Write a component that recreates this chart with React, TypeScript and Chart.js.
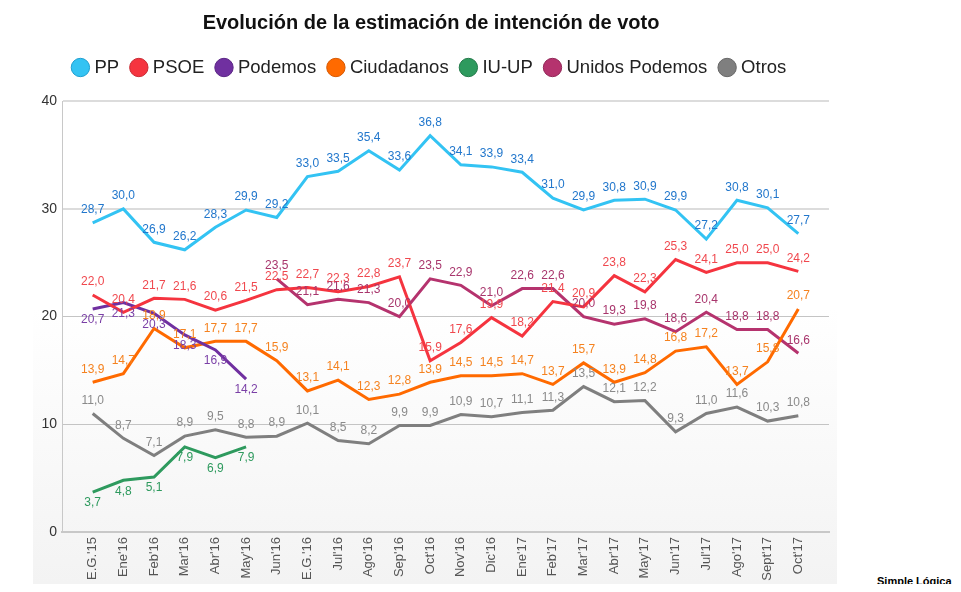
import { useEffect, useRef } from "react";
import { Chart, registerables } from "chart.js";
Chart.register(...registerables);

const categories = ["E.G.'15", "Ene'16", "Feb'16", "Mar'16", "Abr'16", "May'16", "Jun'16", "E.G.'16", "Jul'16", "Ago'16", "Sep'16", "Oct'16", "Nov'16", "Dic'16", "Ene'17", "Feb'17", "Mar'17", "Abr'17", "May'17", "Jun'17", "Jul'17", "Ago'17", "Sept'17", "Oct'17"];

const seriesNames = ["PP", "PSOE", "Podemos", "Ciudadanos", "IU-UP", "Unidos Podemos", "Otros"];

const ppValues = [28.7, 30.0, 26.9, 26.2, 28.3, 29.9, 29.2, 33.0, 33.5, 35.4, 33.6, 36.8, 34.1, 33.9, 33.4, 31.0, 29.9, 30.8, 30.9, 29.9, 27.2, 30.8, 30.1, 27.7];
const psoeValues = [22.0, 20.4, 21.7, 21.6, 20.6, 21.5, 22.5, 22.7, 22.3, 22.8, 23.7, 15.9, 17.6, 19.9, 18.2, 21.4, 20.9, 23.8, 22.3, 25.3, 24.1, 25.0, 25.0, 24.2];
const podemosValues = [20.7, 21.3, 20.3, 18.3, 16.9, 14.2, null, null, null, null, null, null, null, null, null, null, null, null, null, null, null, null, null, null];
const ciudadanosValues = [13.9, 14.7, 18.9, 17.1, 17.7, 17.7, 15.9, 13.1, 14.1, 12.3, 12.8, 13.9, 14.5, 14.5, 14.7, 13.7, 15.7, 13.9, 14.8, 16.8, 17.2, 13.7, 15.8, 20.7];
const iuupValues = [3.7, 4.8, 5.1, 7.9, 6.9, 7.9, null, null, null, null, null, null, null, null, null, null, null, null, null, null, null, null, null, null];
const unidosPodemosValues = [null, null, null, null, null, null, 23.5, 21.1, 21.6, 21.3, 20.0, 23.5, 22.9, 21.0, 22.6, 22.6, 20.0, 19.3, 19.8, 18.6, 20.4, 18.8, 18.8, 16.6];
const otrosValues = [11.0, 8.7, 7.1, 8.9, 9.5, 8.8, 8.9, 10.1, 8.5, 8.2, 9.9, 9.9, 10.9, 10.7, 11.1, 11.3, 13.5, 12.1, 12.2, 9.3, 11.0, 11.6, 10.3, 10.8];

const yTicks = [0, 10, 20, 30, 40];

const allValues = [ppValues, psoeValues, podemosValues, ciudadanosValues, iuupValues, unidosPodemosValues, otrosValues];
const lineColors = ["#33c3f3", "#f5343f", "#7030a0", "#ff6a00", "#2e9a5e", "#b5336e", "#7f7f7f"];
const legendStroke = ["#1f9fd0", "#c92a33", "#5a2585", "#d65800", "#237a4a", "#922858", "#666666"];
const labelColors = ["#2277cc", "#f0484e", "#7a3fa6", "#f5821f", "#2e9a5e", "#a8356c", "#8a8a8a"];
const labelPlacement = ["above", "above", "below", "above", "below", "above", "above"];

const fmt = (v: number) => v.toFixed(1).replace(".", ",");

const bgPlugin = {
  id: "bgShade",
  beforeDraw(chart: any) {
    const ctx = chart.ctx;
    ctx.save();
    const g = ctx.createLinearGradient(0, 300, 0, 576);
    g.addColorStop(0, "rgba(255,255,255,1)");
    g.addColorStop(1, "#f3f3f3");
    ctx.fillStyle = g;
    ctx.fillRect(25, 300, 804, 276);
    ctx.restore();
  },
};

const valueLabelPlugin = {
  id: "valueLabels",
  afterDatasetsDraw(chart: any) {
    const ctx = chart.ctx;
    ctx.save();
    ctx.font = "12px Arial, 'Liberation Sans', sans-serif";
    ctx.textAlign = "center";
    ctx.textBaseline = "middle";
    chart.data.datasets.forEach((ds: any, di: number) => {
      const meta = chart.getDatasetMeta(di);
      ctx.fillStyle = labelColors[di];
      meta.data.forEach((pt: any, i: number) => {
        const raw = ds.data[i];
        if (!raw || raw.y == null) return;
        const dy = labelPlacement[di] === "below" ? 11 : -13;
        ctx.fillText(fmt(raw.y), pt.x, pt.y + dy);
      });
    });
    ctx.restore();
  },
};

export default function App() {
  const ref = useRef<HTMLCanvasElement | null>(null);
  useEffect(() => {
    if (!ref.current) return;
    Chart.defaults.font.family = "Arial, 'Liberation Sans', sans-serif";
    const datasets = seriesNames.map((name, si) => ({
      label: name,
      data: allValues[si]
        .map((v, i) => ({ x: i, y: v }))
        .filter((p) => p.y !== null),
      borderColor: lineColors[si],
      backgroundColor: lineColors[si],
      borderWidth: 3,
      pointRadius: 0,
      pointHoverRadius: 0,
      tension: 0,
      fill: false,
    }));
    const chart = new Chart(ref.current, {
      type: "line",
      data: { datasets },
      plugins: [bgPlugin, valueLabelPlugin],
      options: {
        animation: false,
        responsive: false,
        maintainAspectRatio: false,
        layout: { padding: 0 },
        plugins: {
          title: {
            display: true,
            text: "Evolución de la estimación de intención de voto",
            font: { size: 20, weight: "bold" },
            color: "#111",
            padding: { top: 3, bottom: 8.25 },
          },
          subtitle: {
            display: true,
            text: " ",
            font: { size: 1 },
            padding: { top: 0, bottom: 13.25 },
          },
          legend: {
            display: true,
            weight: 1800,
            labels: {
              usePointStyle: true,
              pointStyle: "circle",
              boxWidth: 9.5,
              boxHeight: 13,
              padding: 15,
              color: "#222",
              font: { size: 18.5 },
              generateLabels: (chart: any) =>
                chart.data.datasets.map((ds: any, i: number) => ({
                  text: ds.label,
                  fillStyle: lineColors[i],
                  strokeStyle: legendStroke[i],
                  lineWidth: 1,
                  pointStyle: "circle",
                  datasetIndex: i,
                  hidden: false,
                  fontColor: "#222",
                })),
            },
          },
          tooltip: { enabled: false },
        },
        scales: {
          x: {
            type: "linear",
            min: -1,
            max: 24,
            afterBuildTicks: (s: any) => {
              s.ticks = categories.map((_, i) => ({ value: i }));
            },
            afterFit: (s: any) => {
              s.height = 52;
            },
            ticks: {
              autoSkip: false,
              maxRotation: 90,
              minRotation: 90,
              padding: 5,
              color: "#555",
              font: { size: 13 },
              callback: (v: any) => categories[v] ?? "",
            },
            grid: { display: false, drawTicks: false },
            border: { display: true, color: "#c8c8c8", width: 2 },
          },
          y: {
            type: "linear",
            min: 0,
            max: 40,
            afterBuildTicks: (s: any) => {
              s.ticks = yTicks.map((v) => ({ value: v }));
            },
            afterFit: (s: any) => {
              s.width = 54;
            },
            ticks: {
              padding: 5,
              color: "#333",
              font: { size: 14 },
            },
            grid: {
              drawTicks: false,
              color: (c: any) => (c.tick && c.tick.value >= 30 ? "#dcdcdc" : "#c4c4c4"),
              lineWidth: (c: any) => (c.tick && c.tick.value >= 30 ? 2 : 1),
            },
            border: { display: true, color: "#c8c8c8", width: 1 },
          },
          yR: {
            type: "linear",
            position: "right",
            display: true,
            afterFit: (s: any) => {
              s.width = 25;
            },
            ticks: { display: false },
            grid: { display: false, drawOnChartArea: false, drawTicks: false },
            border: { display: false },
          },
        },
      } as any,
    });
    return () => chart.destroy();
  }, []);

  return (
    <div style={{ position: "relative", width: 945, height: 576 }}>
      <canvas ref={ref} width={846} height={576} style={{ position: "absolute", left: 0, top: 0, width: 846, height: 576 }} />
      <div
        style={{
          position: "absolute",
          left: 869,
          top: 565,
          fontFamily: "Arial, 'Liberation Sans', sans-serif",
          fontWeight: "bold",
          fontSize: 11,
          lineHeight: "16px",
          color: "#000",
          whiteSpace: "nowrap",
        }}
      >
        Simple Lógica
      </div>
    </div>
  );
}
